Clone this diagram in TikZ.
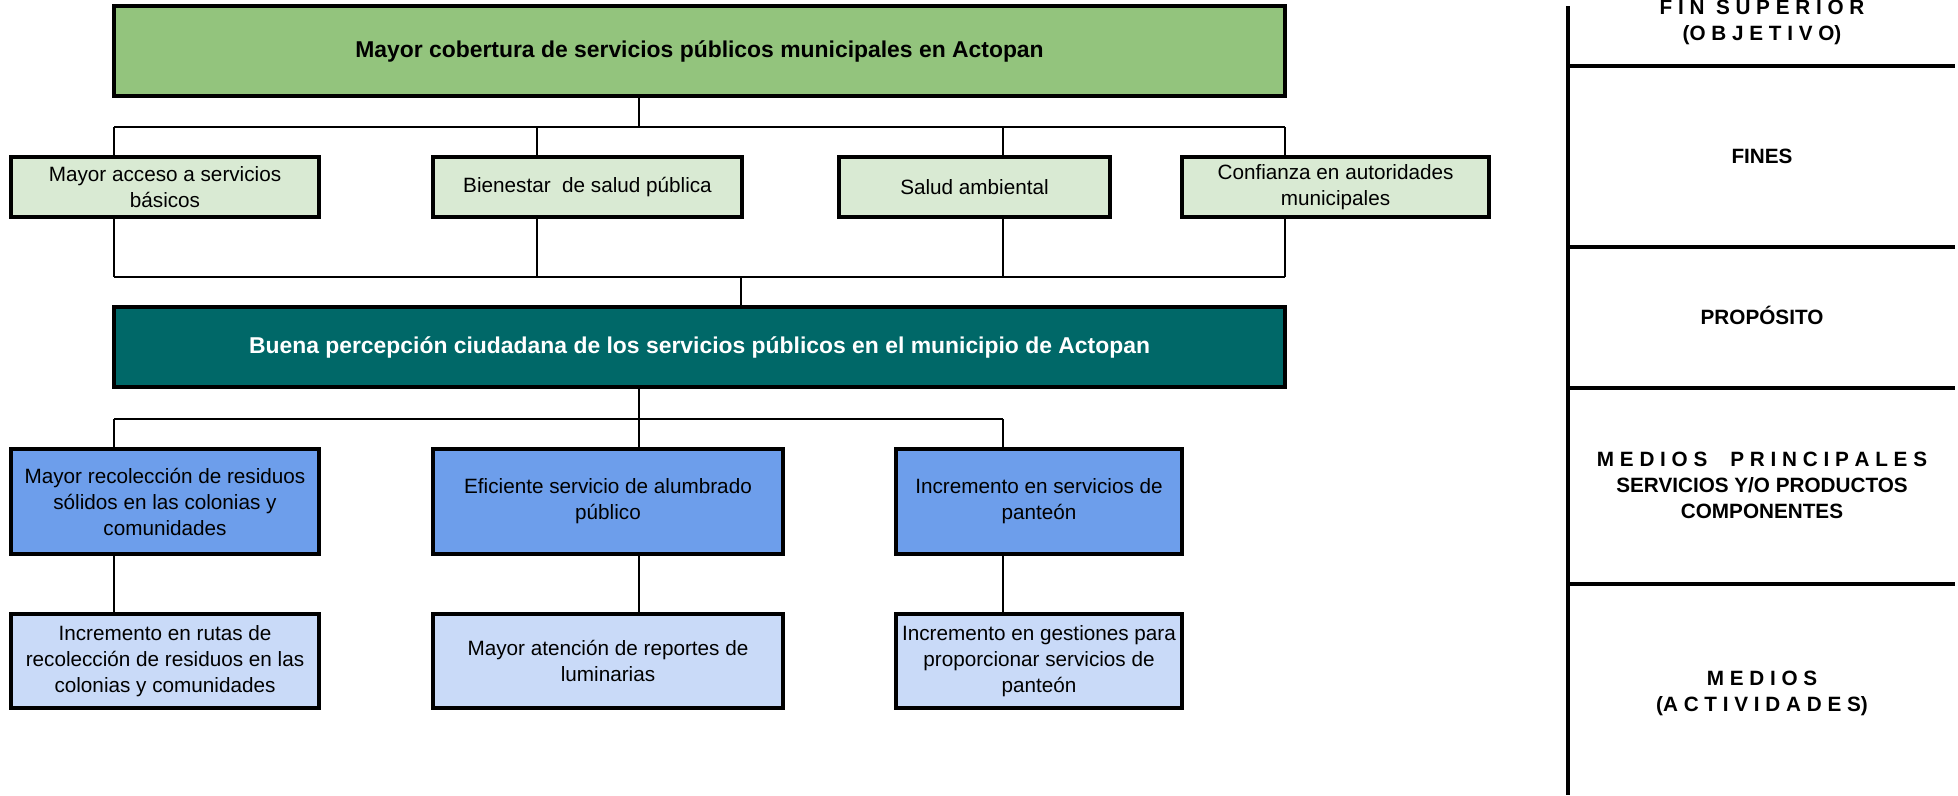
\documentclass[tikz,border=0pt]{standalone}
\usepackage{fontspec}
\setmainfont{Liberation Sans}
\definecolor{topgreen}{HTML}{93C47D}
\definecolor{lightgreen}{HTML}{D9EAD3}
\definecolor{teal}{HTML}{006868}
\definecolor{midblue}{HTML}{6D9EEB}
\definecolor{lightblue}{HTML}{C9DAF8}
\begin{document}
\begin{tikzpicture}[x=1pt,y=-1pt,
  box/.style={draw=black, line width=3.5pt, inner sep=0pt, align=center,
    font=\fontsize{20.7}{26}\selectfont},
  title/.style={font=\fontsize{22.9}{27}\selectfont\bfseries},
  conn/.style={line width=2pt, draw=black},
  panel/.style={line width=3.5pt, draw=black},
  lbl/.style={inner sep=0pt, align=center, font=\fontsize{20.7}{26}\selectfont\bfseries}
]
\useasboundingbox (0,0) rectangle (1958,795);

% junction coordinates
\coordinate (t1) at (639,127);
\coordinate (b1a) at (114,127);
\coordinate (b1b) at (537,127);
\coordinate (b1c) at (1003,127);
\coordinate (b1d) at (1285,127);
\coordinate (b2a) at (114,277);
\coordinate (b2b) at (537,277);
\coordinate (b2c) at (1003,277);
\coordinate (b2d) at (1285,277);
\coordinate (t2) at (741,277);
\coordinate (t3) at (639,419);
\coordinate (b3a) at (114,419);
\coordinate (b3c) at (1003,419);

% boxes
\node[box, title, fill=topgreen, minimum width=1171pt, minimum height=90pt] (top) at (699.5,51)
  {Mayor cobertura de servicios públicos municipales en Actopan};

\node[box, fill=lightgreen, minimum width=308pt, minimum height=60pt] (f1) at (165,187)
  {Mayor acceso a servicios\\básicos};
\node[box, fill=lightgreen, minimum width=309pt, minimum height=60pt] (f2) at (587.5,187)
  {Bienestar~ de salud pública};
\node[box, fill=lightgreen, minimum width=271pt, minimum height=60pt] (f3) at (974.5,187)
  {Salud ambiental};
\node[box, fill=lightgreen, minimum width=307pt, minimum height=60pt] (f4) at (1335.5,187)
  {Confianza en autoridades\\municipales};

\node[box, title, fill=teal, text=white, minimum width=1171pt, minimum height=80pt] (prop) at (699.5,347)
  {Buena percepción ciudadana de los servicios públicos en el municipio de Actopan};

\node[box, fill=midblue, minimum width=308pt, minimum height=105pt] (c1) at (165,501.5)
  {Mayor recolección de residuos\\sólidos en las colonias y\\comunidades};
\node[box, fill=midblue, minimum width=350pt, minimum height=105pt] (c2) at (608,501.5)
  {Eficiente servicio de alumbrado\\público};
\node[box, fill=midblue, minimum width=286pt, minimum height=105pt] (c3) at (1039,501.5)
  {Incremento en servicios de\\panteón};

\node[box, fill=lightblue, minimum width=308pt, minimum height=94pt] (a1) at (165,661)
  {Incremento en rutas de\\recolección de residuos en las\\colonias y comunidades};
\node[box, fill=lightblue, minimum width=350pt, minimum height=94pt] (a2) at (608,661)
  {Mayor atención de reportes de\\luminarias};
\node[box, fill=lightblue, minimum width=286pt, minimum height=94pt] (a3) at (1039,661)
  {Incremento en gestiones para\\proporcionar servicios de\\panteón};

% connectors
\draw[conn] (top.south -| t1) -- (t1);
\draw[conn] (b1a) -- (b1d);
\draw[conn] (b1a) -- (f1.north -| b1a);
\draw[conn] (b1b) -- (f2.north -| b1b);
\draw[conn] (b1c) -- (f3.north -| b1c);
\draw[conn] (b1d) -- (f4.north -| b1d);
\draw[conn] (f1.south -| b2a) -- (b2a);
\draw[conn] (f2.south -| b2b) -- (b2b);
\draw[conn] (f3.south -| b2c) -- (b2c);
\draw[conn] (f4.south -| b2d) -- (b2d);
\draw[conn] (b2a) -- (b2d);
\draw[conn] (t2) -- (prop.north -| t2);
\draw[conn] (prop.south -| t3) -- (t3);
\draw[conn] (b3a) -- (b3c);
\draw[conn] (b3a) -- (c1.north -| b3a);
\draw[conn] (t3) -- (c2.north -| t3);
\draw[conn] (b3c) -- (c3.north -| b3c);
\draw[conn] (c1.south -| b3a) -- (a1.north -| b3a);
\draw[conn] (c2.south -| t3) -- (a2.north -| t3);
\draw[conn] (c3.south -| b3c) -- (a3.north -| b3c);

% right panel
\draw[panel] (1568,6) -- (1568,795);
\draw[panel] (1568,66) -- (1955,66);
\draw[panel] (1568,247) -- (1955,247);
\draw[panel] (1568,388) -- (1955,388);
\draw[panel] (1568,584) -- (1955,584);

\node[lbl] (lfin) at (1762,22.5) {F I N \ S U P E R I O R\\(O B J E T I V O)};
\node[lbl, anchor=base] (lfines) at (1762,163) {FINES};
\node[lbl, anchor=base] (lprop) at (1762,324) {PROPÓSITO};
\node[lbl] (lcomp) at (1762,485) {M E D I O S \ \ \ P R I N C I P A L E S\\SERVICIOS Y/O PRODUCTOS\\COMPONENTES};
\node[lbl] (lact) at (1762,693) {M E D I O S\\(A C T I V I D A D E S)};
\end{tikzpicture}
\end{document}
